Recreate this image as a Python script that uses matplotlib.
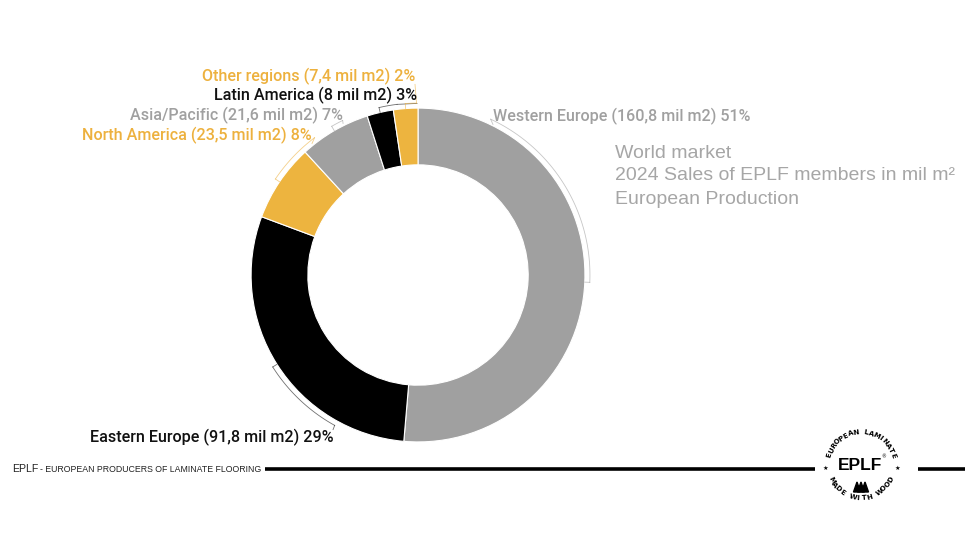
import numpy as np
import matplotlib
matplotlib.use("Agg")
import matplotlib.pyplot as plt
from matplotlib.patches import Polygon

# ── Data ──────────────────────────────────────────────────────────────────────
regions = ["Western Europe", "Eastern Europe", "North America",
           "Asia/Pacific", "Latin America", "Other regions"]
sales = [160.8, 91.8, 23.5, 21.6, 8.0, 7.4]
sales_txt = ["160,8", "91,8", "23,5", "21,6", "8", "7,4"]
shares = [51, 29, 8, 7, 3, 2]

GRAY, GOLD, BLACK = "#A0A0A0", "#EDB43F", "#000000"
seg_colors = [GRAY, BLACK, GOLD, GRAY, BLACK, GOLD]
txt_colors = ["#A0A0A0", "#111111", "#EDB13E", "#A0A0A0", "#111111", "#EDB13E"]

# label anchor (data units of the pie axes), ha, bracket start angle (deg clockwise from top)
label_pos = [(0.449, 0.952, "left", 25),
             (-0.509, -0.976, "right", 209),
             (-0.635, 0.838, "right", 323),
             (-0.449, 0.958, "right", 334),
             (-0.006, 1.078, "right", 353),
             (-0.018, 1.192, "right", 359.5)]

fig = plt.figure(figsize=(9.8, 5.6), dpi=100)
fig.patch.set_facecolor("white")

# overlay in pixel coordinates for title, footer and logo
ov = fig.add_axes([0, 0, 1, 1])
ov.set_xlim(0, 980)
ov.set_ylim(560, 0)
ov.axis("off")

# ── Donut ─────────────────────────────────────────────────────────────────────
ax = fig.add_axes([0.2051, 0.1214, 0.4429, 0.775])
ax.pie(sales, colors=seg_colors, startangle=90, counterclock=False, radius=1,
       wedgeprops=dict(width=0.34, edgecolor="white", linewidth=0.8))
ax.set_xlim(-1.3, 1.3)
ax.set_ylim(-1.3, 1.3)
ax.set_aspect("equal")
ax.axis("off")

cum = np.cumsum([0] + sales) / sum(sales) * 360
for i, name in enumerate(regions):
    lx, ly, ha, a0 = label_pos[i]
    mid = (cum[i] + cum[i + 1]) / 2
    ax.text(lx, ly, f"{name} ({sales_txt[i]} mil m2) {shares[i]}%",
            ha=ha, va="center", fontsize=11.6, color=txt_colors[i],
            family="Roboto", fontweight="medium")
    # thin callout bracket along the outer edge
    r = 1.03
    th = np.radians(np.linspace(a0, mid, 60))
    lc = txt_colors[i]
    ax.plot(r * np.sin(th), r * np.cos(th), color=lc, lw=0.6, alpha=0.6)
    tm = np.radians(mid)
    ax.plot([r * np.sin(tm), 1.0 * np.sin(tm)], [r * np.cos(tm), 1.0 * np.cos(tm)],
            color=lc, lw=0.6, alpha=0.6)
    t0 = np.radians(a0)
    ax.plot([r * np.sin(t0), lx], [r * np.cos(t0), ly - np.sign(ly) * 0.05],
            color=lc, lw=0.6, alpha=0.6)

# ── Title block ───────────────────────────────────────────────────────────────
title_lines = ["World market", "2024 Sales of EPLF members in mil m²",
               "European Production"]
for k, line in enumerate(title_lines):
    ov.text(615, 153 + 23 * k, line, ha="left", va="center", fontsize=14,
            color="#A6A6A6", family="Liberation Sans")

# ── Footer ────────────────────────────────────────────────────────────────────
ov.text(12, 469, "EPLF", ha="left", va="center", fontsize=7.6,
        color="#222222", family="Liberation Sans")
ov.text(40, 469, "- EUROPEAN PRODUCERS OF LAMINATE FLOORING", ha="left",
        va="center", fontsize=6.3, color="#222222", family="Liberation Sans")
ov.plot([265, 815], [468.5, 468.5], color="black", lw=2.6, solid_capstyle="butt")
ov.plot([918, 965], [468.5, 468.5], color="black", lw=2.6, solid_capstyle="butt")

# ── Logo ──────────────────────────────────────────────────────────────────────
cx, cy, rr = 861, 465, 33
top_txt = "EUROPEAN LAMINATE"
for j, ch in enumerate(top_txt):
    phi = np.radians(163 - j * (146 / (len(top_txt) - 1)))
    ov.text(cx + rr * np.cos(phi), cy - rr * np.sin(phi), ch,
            rotation=np.degrees(phi) - 90, ha="center", va="center",
            fontsize=5, fontweight="bold", family="DejaVu Sans")
bot_txt = "MADE WITH WOOD"
for j, ch in enumerate(bot_txt):
    phi = np.radians(207 + j * (126 / (len(bot_txt) - 1)))
    ov.text(cx + rr * np.cos(phi), cy - rr * np.sin(phi), ch,
            rotation=np.degrees(phi) + 90, ha="center", va="center",
            fontsize=5, fontweight="bold", family="DejaVu Sans")
ov.text(cx - 36, 468, "★", ha="center", va="center", fontsize=4.5,
        family="DejaVu Sans")
ov.text(cx + 36, 468, "★", ha="center", va="center", fontsize=4.5,
        family="DejaVu Sans")
ov.text(cx - 1, 466, "EPLF", ha="center", va="center", fontsize=12.5,
        fontweight="bold", family="Liberation Sans")
ov.text(cx + 23, 457, "®", ha="center", va="center", fontsize=3.5)
for dx in (-4, 0, 4):
    ov.add_patch(Polygon([[cx + dx - 3.5, 492], [cx + dx + 3.5, 492],
                          [cx + dx, 482]], closed=True, color="black"))

fig.savefig("out.png", dpi=100, facecolor="white")
